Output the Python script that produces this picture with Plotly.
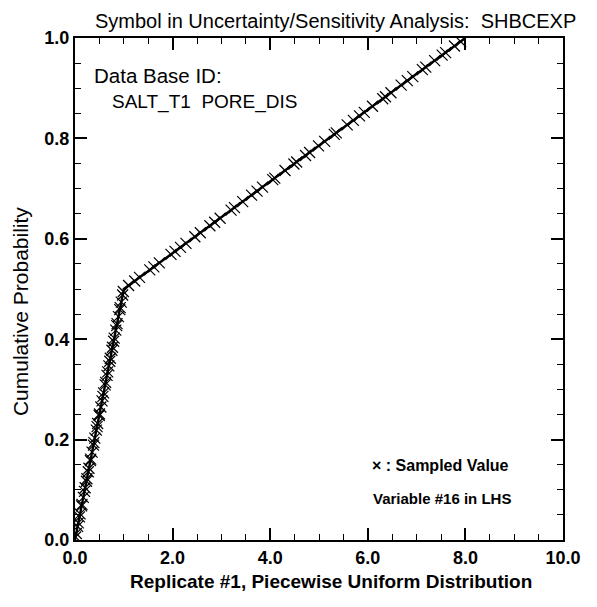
import plotly.graph_objects as go

# Sampled values (LHS replicate #1) and their cumulative probabilities
sample_x = [0.012, 0.026, 0.054, 0.068, 0.092, 0.104, 0.136, 0.142, 0.170, 0.194,
            0.208, 0.234, 0.244, 0.272, 0.286, 0.316, 0.322, 0.350, 0.378, 0.388,
            0.406, 0.438, 0.452, 0.464, 0.496, 0.502, 0.530, 0.554, 0.572, 0.586,
            0.618, 0.628, 0.656, 0.670, 0.694, 0.712, 0.724, 0.756, 0.768, 0.792,
            0.804, 0.836, 0.854, 0.862, 0.890, 0.918, 0.926, 0.948, 0.976, 0.990,
            1.098, 1.224, 1.322, 1.532, 1.616, 1.728, 1.966, 2.050, 2.162, 2.274,
            2.456, 2.568, 2.764, 2.862, 2.974, 3.198, 3.268, 3.436, 3.618, 3.730,
            3.842, 4.052, 4.094, 4.304, 4.486, 4.542, 4.724, 4.808, 4.990, 5.116,
            5.312, 5.354, 5.578, 5.704, 5.830, 5.928, 6.096, 6.306, 6.362, 6.474,
            6.684, 6.810, 6.922, 7.118, 7.188, 7.370, 7.524, 7.594, 7.776, 7.902]
sample_p = [0.006, 0.013, 0.027, 0.034, 0.046, 0.052, 0.068, 0.071, 0.085, 0.097,
            0.104, 0.117, 0.122, 0.136, 0.143, 0.158, 0.161, 0.175, 0.189, 0.194,
            0.203, 0.219, 0.226, 0.232, 0.248, 0.251, 0.265, 0.277, 0.286, 0.293,
            0.309, 0.314, 0.328, 0.335, 0.347, 0.356, 0.362, 0.378, 0.384, 0.396,
            0.402, 0.418, 0.427, 0.431, 0.445, 0.459, 0.463, 0.474, 0.488, 0.495,
            0.507, 0.516, 0.523, 0.538, 0.544, 0.552, 0.569, 0.575, 0.583, 0.591,
            0.604, 0.612, 0.626, 0.633, 0.641, 0.657, 0.662, 0.674, 0.687, 0.695,
            0.703, 0.718, 0.721, 0.736, 0.749, 0.753, 0.766, 0.772, 0.785, 0.794,
            0.808, 0.811, 0.827, 0.836, 0.845, 0.852, 0.864, 0.879, 0.883, 0.891,
            0.906, 0.915, 0.923, 0.937, 0.942, 0.955, 0.966, 0.971, 0.984, 0.993]

# Piecewise uniform distribution CDF breakpoints
cdf_x = [0.0, 1.0, 8.0]
cdf_p = [0.0, 0.5, 1.0]

x_ticks = [0, 2, 4, 6, 8, 10]
x_tick_labels = ["0.0", "2.0", "4.0", "6.0", "8.0", "10.0"]
y_ticks = [0, 0.2, 0.4, 0.6, 0.8, 1.0]
y_tick_labels = ["0.0", "0.2", "0.4", "0.6", "0.8", "1.0"]

FONT = "Liberation Sans, Arial, Helvetica, sans-serif"

fig = go.Figure()
fig.add_trace(go.Scatter(x=cdf_x, y=cdf_p, mode="lines",
                         line=dict(color="black", width=2.4), showlegend=False,
                         hoverinfo="skip"))
fig.add_trace(go.Scatter(x=sample_x, y=sample_p, mode="markers",
                         marker=dict(symbol="x-thin", size=11,
                                     line=dict(color="black", width=1.2)),
                         showlegend=False))

axis_common = dict(showgrid=False, zeroline=False, showline=True, linecolor="black",
                   linewidth=2, mirror="allticks", ticks="inside", ticklen=12,
                   tickwidth=1.5, tickcolor="black", automargin=False,
                   tickfont=dict(family=FONT, size=18, color="black", weight="bold"))

fig.update_xaxes(range=[0, 10], tickvals=x_ticks, ticktext=x_tick_labels,
                 minor=dict(dtick=0.5, ticks="inside", ticklen=6, tickwidth=1.2,
                            tickcolor="black"),
                 **axis_common)
fig.update_yaxes(range=[0, 1], tickvals=y_ticks, ticktext=y_tick_labels,
                 minor=dict(dtick=0.05, ticks="inside", ticklen=6, tickwidth=1.2,
                            tickcolor="black"),
                 **axis_common)

fig.update_layout(
    width=597, height=607,
    margin=dict(l=67, r=42, t=30, b=75),
    paper_bgcolor="white", plot_bgcolor="white",
    font=dict(family=FONT, color="black"),
    annotations=[
        dict(text="Symbol in Uncertainty/Sensitivity Analysis:  SHBCEXP",
             xref="paper", yref="paper", x=0.533, y=1.0, yshift=30,
             xanchor="center", yanchor="top", showarrow=False,
             font=dict(family=FONT, size=20, color="black")),
        dict(text="Replicate #1, Piecewise Uniform Distribution",
             xref="paper", yref="paper", x=0.524, y=0.0, yshift=-41,
             xanchor="center", yanchor="middle", showarrow=False,
             font=dict(family=FONT, size=19, color="black", weight="bold")),
        dict(text="Cumulative Probability", textangle=-90,
             xref="paper", yref="paper", x=0.0, xshift=-55, y=0.454,
             xanchor="center", yanchor="middle", showarrow=False,
             font=dict(family=FONT, size=21, color="black")),
        dict(text="Data Base ID:", xref="paper", yref="paper", x=0.035, y=0.926,
             xanchor="left", yanchor="middle", showarrow=False,
             font=dict(family=FONT, size=20.5, color="black")),
        dict(text="SALT_T1  PORE_DIS", xref="paper", yref="paper", x=0.072, y=0.8725,
             xanchor="left", yanchor="middle", showarrow=False,
             font=dict(family=FONT, size=19, color="black")),
        dict(text="\u00d7 : Sampled Value", xref="paper", yref="paper", x=0.6045, y=0.149,
             xanchor="left", yanchor="middle", showarrow=False,
             font=dict(family=FONT, size=16, color="black", weight="bold")),
        dict(text="Variable #16 in LHS", xref="paper", yref="paper", x=0.6066, y=0.0817,
             xanchor="left", yanchor="middle", showarrow=False,
             font=dict(family=FONT, size=15, color="black", weight="bold")),
    ],
)

fig.write_html("out.html")
